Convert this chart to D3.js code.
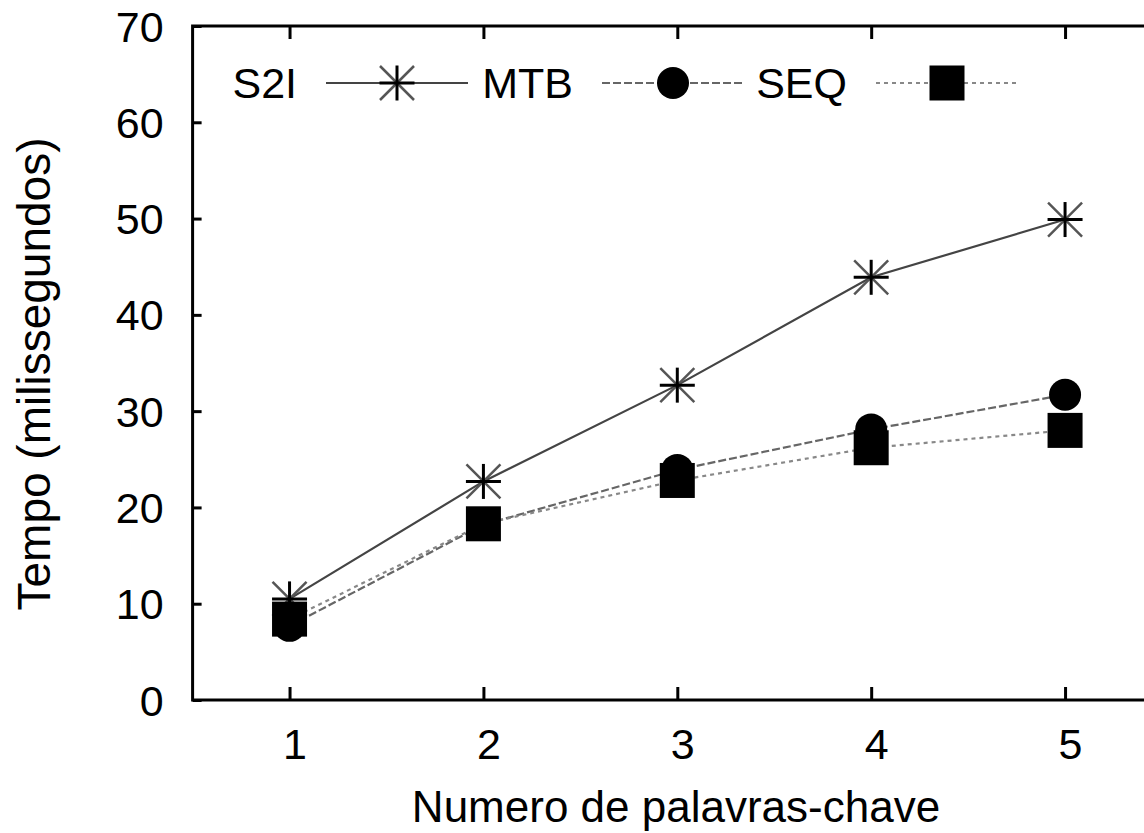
<!DOCTYPE html>
<html>
<head>
<meta charset="utf-8">
<script src="https://cdn.jsdelivr.net/npm/d3@7"></script>
<style>
  html, body { margin: 0; padding: 0; background: #fff; }
  svg { display: block; }
  text { font-family: "Liberation Sans", Arial, Helvetica, sans-serif; fill: #000; }
</style>
</head>
<body>
<svg id="chart" width="1144" height="833"></svg>
<script>
const categories = [1, 2, 3, 4, 5];
const s2iValues = [10.5, 22.7, 32.7, 43.9, 49.9];
const mtbValues = [7.7, 18.2, 23.9, 28.1, 31.7];
const seqValues = [8.4, 18.3, 22.8, 26.2, 28.0];
const yTicks = [0, 10, 20, 30, 40, 50, 60, 70];
const seriesNames = ["S2I", "MTB", "SEQ"];
const xTitle = "Numero de palavras-chave";
const yTitle = "Tempo (milissegundos)";

const svg = d3.select("#chart");
const x = d3.scaleLinear().domain([0.5, 5.5]).range([192.6, 1162]);
const y = d3.scaleLinear().domain([0, 70]).range([700, 26]);

const series = [
  { name: seriesNames[0], values: s2iValues, marker: "star", color: "#444", dash: null },
  { name: seriesNames[1], values: mtbValues, marker: "circle", color: "#666", dash: "8,3" },
  { name: seriesNames[2], values: seqValues, marker: "square", color: "#888", dash: "4,4" }
];

// Axes (inward ticks)
const fontSize = 43;
const yAxis = d3.axisLeft(y).tickValues(yTicks).tickSize(-9).tickFormat(d3.format("d")).tickPadding(38);
const gy = svg.append("g").attr("transform", `translate(${x.range()[0]},0)`).call(yAxis);
const xAxis = d3.axisBottom(x).tickValues(categories).tickSize(-13).tickFormat(d3.format("d")).tickPadding(28);
const gx = svg.append("g").attr("transform", `translate(0,${y(0)})`).call(xAxis);
const xTop = d3.axisTop(x).tickValues(categories).tickSize(-13).tickFormat("");
const gt = svg.append("g").attr("transform", `translate(0,${y(70)})`).call(xTop);

[gy, gx, gt].forEach(g => {
  g.select(".domain").remove();
  g.selectAll(".tick line").attr("stroke", "#000").attr("stroke-width", 3);
  g.selectAll("text").style("font-size", fontSize + "px").attr("fill", "#000");
});
gy.selectAll("text").attr("x", -29).attr("dy", "0.35em");
gx.selectAll("text").attr("dx", 5).attr("dy", 0).attr("y", 59);

// Frame
svg.append("rect")
  .attr("x", x.range()[0]).attr("y", y(70))
  .attr("width", x.range()[1] - x.range()[0]).attr("height", y(0) - y(70))
  .attr("fill", "none").attr("stroke", "#000").attr("stroke-width", 3);

// Marker drawing
function drawMarker(g, type, cx, cy) {
  if (type === "star") {
    const a = 17.5, b = 17;
    g.append("line").attr("x1", cx - b).attr("y1", cy - b).attr("x2", cx + b).attr("y2", cy + b)
      .attr("stroke", "#555").attr("stroke-width", 2.5);
    g.append("line").attr("x1", cx - b).attr("y1", cy + b).attr("x2", cx + b).attr("y2", cy - b)
      .attr("stroke", "#555").attr("stroke-width", 2.5);
    g.append("line").attr("x1", cx - a).attr("y1", cy).attr("x2", cx + a).attr("y2", cy)
      .attr("stroke", "#000").attr("stroke-width", 3);
    g.append("line").attr("x1", cx).attr("y1", cy - a).attr("x2", cx).attr("y2", cy + a)
      .attr("stroke", "#000").attr("stroke-width", 3);
  } else if (type === "circle") {
    g.append("circle").attr("cx", cx).attr("cy", cy).attr("r", 16).attr("fill", "#000");
  } else {
    g.append("rect").attr("x", cx - 17.5).attr("y", cy - 17.5).attr("width", 35).attr("height", 35).attr("fill", "#000");
  }
}

const line = d3.line().x((d, i) => x(categories[i])).y(d => y(d));

series.forEach(s => {
  const g = svg.append("g");
  g.append("path").attr("d", line(s.values)).attr("fill", "none")
    .attr("stroke", s.color).attr("stroke-width", 2.2)
    .attr("stroke-dasharray", s.dash);
  s.values.forEach((v, i) => drawMarker(g, s.marker, x(categories[i]), y(v)));
});

// Legend
const legendTextRight = [297, 573, 847];
const legendY = 83;
series.forEach((s, i) => {
  const g = svg.append("g");
  const tx = legendTextRight[i];
  g.append("text").attr("x", tx).attr("y", legendY).attr("dy", "0.35em")
    .attr("text-anchor", "end").style("font-size", fontSize + "px").text(s.name);
  const x1 = tx + 29, x2 = tx + 171;
  g.append("line").attr("x1", x1).attr("x2", x2).attr("y1", legendY).attr("y2", legendY)
    .attr("stroke", s.color).attr("stroke-width", 2.2).attr("stroke-dasharray", s.dash);
  drawMarker(g, s.marker, (x1 + x2) / 2, legendY);
});

// Axis titles
svg.append("text").attr("x", 676).attr("y", 822).attr("text-anchor", "middle")
  .style("font-size", "44px").text(xTitle);
svg.append("text").attr("transform", "translate(50,374) rotate(-90)").attr("text-anchor", "middle")
  .style("font-size", "46px").text(yTitle);
</script>
</body>
</html>
